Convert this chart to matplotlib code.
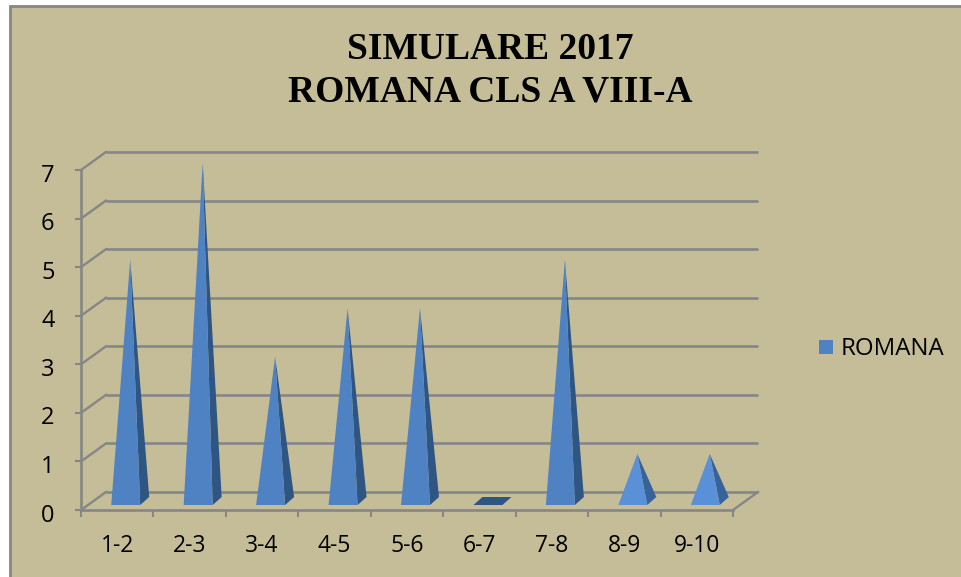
import matplotlib
matplotlib.use("Agg")
import matplotlib.pyplot as plt
from matplotlib.patches import Polygon, Rectangle
from matplotlib.transforms import ScaledTranslation

categories = ["1-2", "2-3", "3-4", "4-5", "5-6", "6-7", "7-8", "8-9", "9-10"]
romana = [5, 7, 3, 4, 4, 0, 5, 1, 1]
y_ticks = [0, 1, 2, 3, 4, 5, 6, 7]
title = "SIMULARE 2017\nROMANA CLS A VIII-A"
series_name = "ROMANA"

W, H = 961, 577
BG = "#C4BD97"
GRID = "#868686"
FRONT = "#4F82C2"
FRONT_LIGHT = "#5A90D8"
SIDE = "#2F5582"
SIDE_LIGHT = "#38629A"
SANS = ["Open Sans", "DejaVu Sans"]

fig = plt.figure(figsize=(W / 100, H / 100), dpi=100, facecolor="white")
fig.add_artist(Rectangle((10 / W, -0.01), 1, 1.01 - 6 / H, transform=fig.transFigure,
                         facecolor=BG, edgecolor=GRID, linewidth=2, zorder=-5))

L, R, T, B = 81, 733, 170, 510
ax = fig.add_axes([L / W, 1 - B / H, (R - L) / W, (B - T) / H])
ax.set_xlim(0, len(categories))
ax.set_ylim(0, 7)
ax.patch.set_alpha(0)

# Pixel-to-data scale for the oblique 3D projection
ux = (R - L) / len(categories)
uy = (B - T) / 7
dx, dy = 25 / ux, 18 / uy
GRID_LW = 1.9

# Walls and floor
for v in y_ticks:
    ax.plot([dx, len(categories) + dx], [v + dy, v + dy],
            color=GRID, lw=GRID_LW, clip_on=False, zorder=1, solid_capstyle="butt")
    ax.plot([0, dx], [v, v + dy], color=GRID, lw=GRID_LW * 0.9, clip_on=False, zorder=1)
ax.plot([len(categories), len(categories) + dx], [0, dy], color=GRID, lw=GRID_LW * 0.9,
        clip_on=False, zorder=1)

# Pyramids
half_w = 14.5 / ux
off_x, off_y = 8.5 / ux, 5 / uy
depth_x, depth_y = 9 / ux, 8 / uy
apex_drop = 1.5 / uy
for i, v in enumerate(romana):
    cx = i + 0.5 + off_x
    fl = (cx - half_w, off_y)
    fr = (cx + half_w, off_y)
    br = (cx + half_w + depth_x, off_y + depth_y)
    bl = (cx - half_w + depth_x, off_y + depth_y)
    apex = (cx + depth_x / 2, v + off_y + depth_y / 2 - apex_drop)
    small = v <= 1
    front = FRONT_LIGHT if small else FRONT
    side = SIDE_LIGHT if small else SIDE
    if v == 0:
        ax.add_patch(Polygon([fl, fr, br, bl], closed=True, facecolor=SIDE,
                             edgecolor="none", clip_on=False, zorder=3))
    else:
        ax.add_patch(Polygon([fr, br, apex], closed=True, facecolor=side,
                             edgecolor="none", clip_on=False, zorder=3))
        ax.add_patch(Polygon([fl, fr, apex], closed=True, facecolor=front,
                             edgecolor="none", clip_on=False, zorder=4))

# Axes
for s in ("top", "right"):
    ax.spines[s].set_visible(False)
for s in ("left", "bottom"):
    ax.spines[s].set_color(GRID)
    ax.spines[s].set_linewidth(GRID_LW)
ax.set_yticks(y_ticks)
ax.set_xticks(range(len(categories) + 1))
ax.set_xticklabels([])
ax.set_xticks([i + 0.5 for i in range(len(categories))], minor=True)
ax.set_xticklabels(categories, minor=True, fontsize=16.5, family=SANS, color="black")
ax.tick_params(axis="y", which="major", length=4.5, width=1.5, color=GRID,
               labelsize=17, pad=14.5, labelcolor="black")
ax.tick_params(axis="x", which="major", length=5, width=1.5, color=GRID)
ax.tick_params(axis="x", which="minor", length=0, pad=17)
label_shift = ScaledTranslation(0, -2.5 / 100, fig.dpi_scale_trans)
for lab in ax.get_yticklabels():
    lab.set_family(SANS)
    lab.set_transform(lab.get_transform() + label_shift)

fig.text(490 / W, 1 - 71 / H, title, ha="center", va="center", family="Liberation Serif",
         weight="bold", fontsize=27, linespacing=1.27, color="black")

# Legend
fig.add_artist(Rectangle((819 / W, 1 - 354 / H), 14 / W, 14 / H, transform=fig.transFigure,
                         facecolor=FRONT, edgecolor="none"))
fig.text(841 / W, 1 - 349 / H, series_name, ha="left", va="center", family=SANS,
         fontsize=17.3, color="black")

fig.savefig("out.png", dpi=100, facecolor="white")
